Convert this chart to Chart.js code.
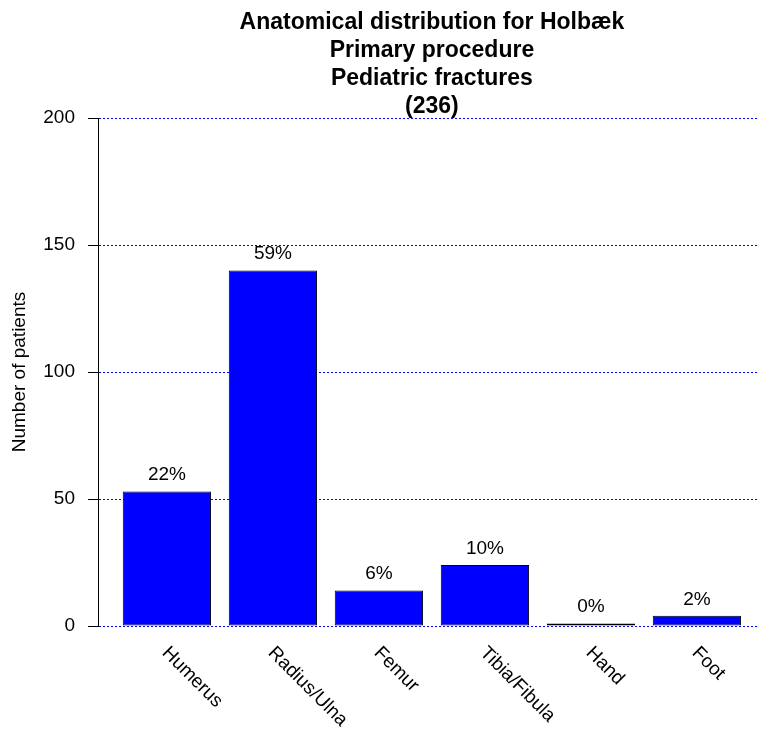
<!DOCTYPE html>
<html>
<head>
<meta charset="utf-8">
<script src="https://cdn.jsdelivr.net/npm/chart.js@4/dist/chart.umd.min.js"></script>
<style>
  html, body { margin: 0; padding: 0; background: #fff; }
  #wrap { width: 757px; height: 729px; }
</style>
</head>
<body>
<div id="wrap"><canvas id="anatChart" width="757" height="729"></canvas></div>
<script>
// Data
const categories = ['Humerus', 'Radius/Ulna', 'Femur', 'Tibia/Fibula', 'Hand', 'Foot'];
const patients = [53, 140, 14, 24, 1, 4];
const yTicks = [0, 50, 100, 150, 200];
const titleLines = ['Anatomical distribution for Holbæk', 'Primary procedure', 'Pediatric fractures', '(236)'];

// barplot style slots: bar width 1, gap 0.2
const slot = 1.2;
const barX = categories.map((c, i) => 0.7 + slot * i);
const total = patients.reduce((a, b) => a + b, 0);

const font = '"Liberation Sans", Arial, Helvetica, sans-serif';

const labelsPlugin = {
    id: 'labels',
    afterDraw(chart) {
        const ctx = chart.ctx;
        const xs = chart.scales.x;
        const ys = chart.scales.y;
        ctx.save();
        ctx.fillStyle = '#000';

        // percentages above bars
        ctx.font = '19px ' + font;
        ctx.textAlign = 'center';
        ctx.textBaseline = 'alphabetic';
        patients.forEach((v, i) => {
            const pct = Math.round(v / total * 100) + '%';
            ctx.fillText(pct, xs.getPixelForValue(barX[i]), ys.getPixelForValue(v) - 11);
        });

        // rotated category labels
        ctx.textAlign = 'left';
        ctx.textBaseline = 'middle';
        categories.forEach((c, i) => {
            ctx.save();
            ctx.translate(xs.getPixelForValue(barX[i]) - 2, ys.getPixelForValue(0) + 24);
            ctx.rotate(Math.PI / 4);
            ctx.fillText(c, 0, 0);
            ctx.restore();
        });

        // title, centred over the bars
        const cx = xs.getPixelForValue((barX[0] + barX[barX.length - 1]) / 2);
        ctx.font = 'bold 23px ' + font;
        ctx.textAlign = 'center';
        ctx.textBaseline = 'alphabetic';
        titleLines.forEach((t, i) => {
            ctx.fillText(t, cx, 28.5 + i * 28);
        });
        ctx.restore();
    }
};

const ctx = document.getElementById('anatChart').getContext('2d');
const anatChart = new Chart(ctx, {
    type: 'bar',
    data: {
        datasets: [{
            data: patients.map((v, i) => ({ x: barX[i], y: v })),
            backgroundColor: '#0000ff',
            borderColor: '#000000',
            borderWidth: 1,
            borderSkipped: false,
            barPercentage: 1,
            categoryPercentage: 1 / slot
        }]
    },
    options: {
        responsive: false,
        animation: false,
        layout: {
            padding: { top: 118, bottom: 103, left: 0, right: 0 }
        },
        plugins: {
            legend: { display: false },
            tooltip: { enabled: false },
            title: { display: false }
        },
        scales: {
            x: {
                type: 'linear',
                display: false,
                offset: false,
                min: -0.08,
                max: 7.38,
                afterBuildTicks(scale) { scale.ticks = barX.map(v => ({ value: v })); }
            },
            y: {
                min: 0,
                max: 200,
                afterFit(scale) { scale.width = 98; },
                afterBuildTicks(scale) { scale.ticks = yTicks.map(v => ({ value: v })); },
                ticks: {
                    color: '#000',
                    padding: 13,
                    font: { family: font, size: 19 }
                },
                grid: {
                    color: '#0000ff',
                    lineWidth: 1,
                    tickColor: '#000',
                    tickLength: 10,
                    tickBorderDash: []
                },
                border: {
                    display: true,
                    color: '#000',
                    width: 1,
                    dash: [2, 2]
                },
                title: {
                    display: true,
                    text: 'Number of patients',
                    color: '#000',
                    font: { family: font, size: 19, lineHeight: 1.2 },
                    padding: { top: 8, bottom: 0 }
                }
            }
        }
    },
    plugins: [labelsPlugin]
});
</script>
</body>
</html>
